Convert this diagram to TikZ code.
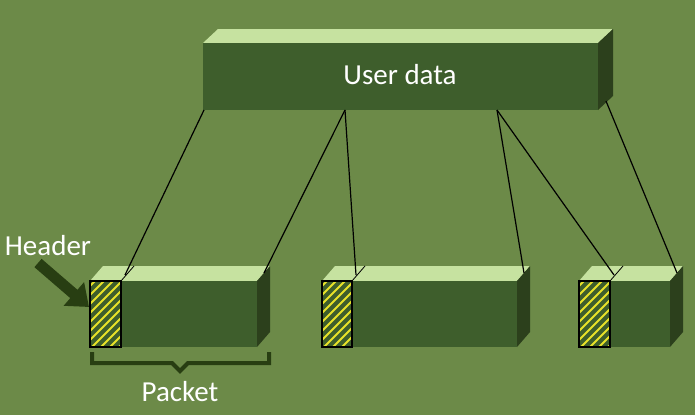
\documentclass[tikz,border=0pt]{standalone}
\usepackage{fontspec}
\setmainfont{Carlito}
\usetikzlibrary{arrows.meta}
\definecolor{bg}{RGB}{108,138,72}
\definecolor{front}{RGB}{62,94,44}
\definecolor{topface}{RGB}{198,226,160}
\definecolor{side}{RGB}{44,64,28}
\definecolor{pointer}{RGB}{40,62,18}
\definecolor{stripe}{RGB}{232,226,40}

\begin{document}
\begin{tikzpicture}[x=1pt, y=-1pt, line width=1.2pt,
  label/.style={text=white, font=\fontsize{29}{31}\selectfont}]

\fill[bg] (0,0) rectangle (695,415);

\fill[topface] (203,43)--(218,29)--(613,29)--(598,43)--cycle;
\fill[side] (598,43)--(613,29)--(613,96)--(598,110)--cycle;
\fill[front] (203,43) rectangle (598,110);
\node[label] (user) at (400,75) {User data};

\coordinate (u1) at (204,110);
\coordinate (u2) at (345,110);
\coordinate (u3) at (497,110);
\coordinate (u4) at (606,101);

\foreach \a/\b/\c/\n in {90/121/257/1, 322/352/517/2, 579/610/670/3} {
  \fill[topface] (\a,281)--(\a+13,266)--(\c+13,266)--(\c,281)--cycle;
  \fill[side] (\c,281)--(\c+13,266)--(\c+13,332)--(\c,347)--cycle;
  \fill[front] (\a,281) rectangle (\c,347);
  \begin{scope}
    \clip (\a,281) rectangle (\b,347);
    \foreach \k in {0,...,12}
      \draw[stripe, line width=2pt] (\a-70+9*\k,347)--++(70,-70);
  \end{scope}
  \draw (\a,281) rectangle (\b,347);
  \draw[line width=0.8pt] (\b,281)--(\b+13,266);
  \coordinate (hd\n) at (\b+4,275);
  \coordinate (rt\n) at (\c+7,273);
}

\draw (u1)--(hd1);
\draw (u2)--(rt1);
\draw (u2)--(hd2);
\draw (u3)--(rt2);
\draw (u3)--(hd3);
\draw (u4)--(rt3);

\node[label] (header) at (48,246) {Header};
\coordinate (tail) at (38,263);
\coordinate (tip) at (89,307);
\draw[pointer, line width=11pt, -{Triangle[length=20pt,width=30pt]}] (tail)--(tip);

\draw[pointer, line width=4pt] (92,352)--(92,363)--(172,363)--(180,371)--(188,363)--(269,363)--(269,352);
\node[label] (packet) at (180,392) {Packet};

\end{tikzpicture}
\end{document}
